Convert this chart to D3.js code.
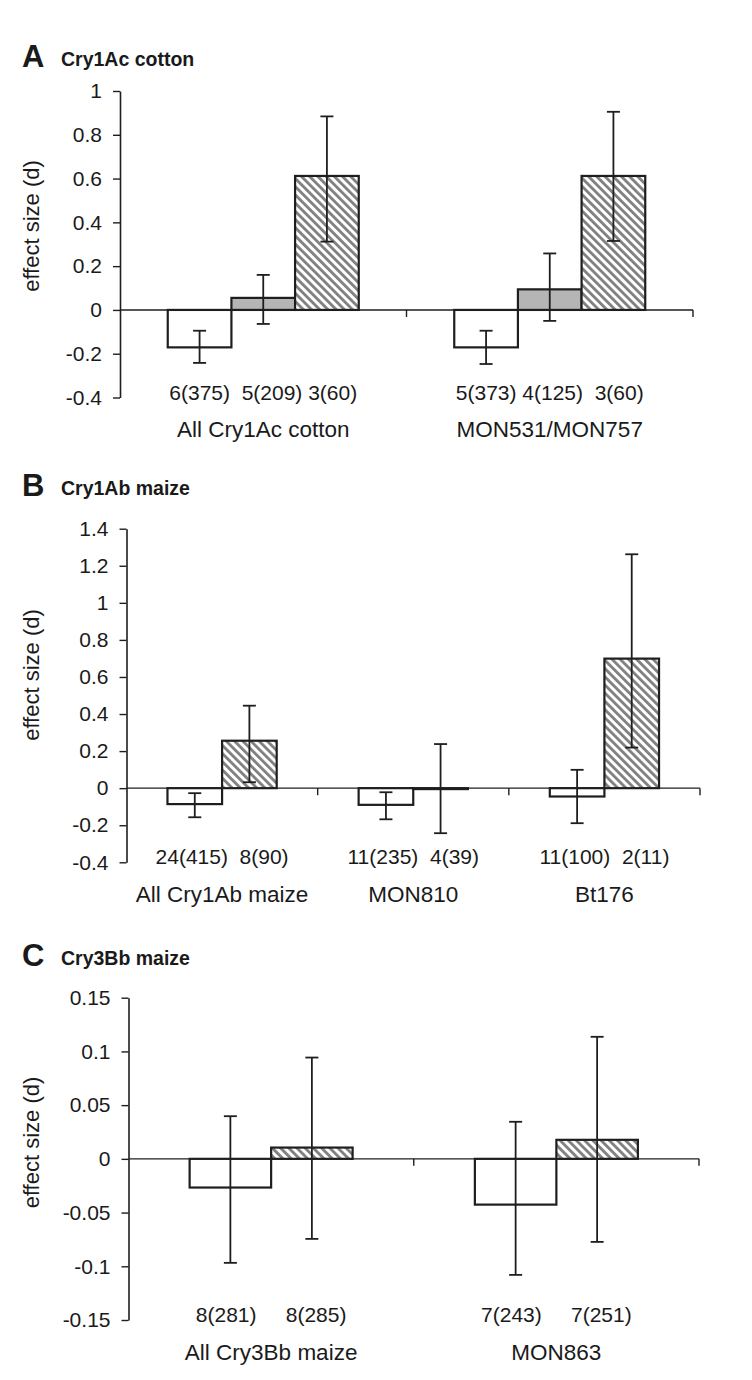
<!DOCTYPE html>
<html><head><meta charset="utf-8">
<script src="https://cdn.jsdelivr.net/npm/d3@7"></script>
<style>
body{margin:0;background:#fff}
svg text{font-family:"Liberation Sans",Arial,Helvetica,sans-serif;fill:#1a1a1a}
</style>
</head><body>
<svg id="chart" width="752" height="1380"></svg>
<script>
// ---------- DATA ----------
// Panel A: Cry1Ac cotton (three series)
const seriesA = ["open", "grey", "hatched"];
const groupsA = ["All Cry1Ac cotton", "MON531/MON757"];
const countsA = ["6(375)  5(209) 3(60)", "5(373) 4(125)  3(60)"];
const valuesA = [[-0.171, 0.055, 0.612], [-0.171, 0.094, 0.612]];
const lowA    = [[-0.242, -0.064, 0.312], [-0.247, -0.050, 0.315]];
const highA   = [[-0.095, 0.160, 0.884], [-0.095, 0.258, 0.905]];
const ticksA  = [1, 0.8, 0.6, 0.4, 0.2, 0, -0.2, -0.4];
const tickLabelsA = ["1", "0.8", "0.6", "0.4", "0.2", "0", "-0.2", "-0.4"];

// Panel B: Cry1Ab maize (two series)
const seriesB = ["open", "hatched"];
const groupsB = ["All Cry1Ab maize", "MON810", "Bt176"];
const countsB = ["24(415)  8(90)", "11(235)  4(39)", "11(100)  2(11)"];
const valuesB = [[-0.086, 0.256], [-0.090, -0.005], [-0.045, 0.699]];
const lowB    = [[-0.157, 0.032], [-0.168, -0.243], [-0.189, 0.219]];
const highB   = [[-0.027, 0.445], [-0.022, 0.238], [0.099, 1.262]];
const ticksB  = [1.4, 1.2, 1, 0.8, 0.6, 0.4, 0.2, 0, -0.2, -0.4];
const tickLabelsB = ["1.4", "1.2", "1", "0.8", "0.6", "0.4", "0.2", "0", "-0.2", "-0.4"];

// Panel C: Cry3Bb maize (two series)
const seriesC = ["open", "hatched"];
const groupsC = ["All Cry3Bb maize", "MON863"];
const countsC = ["8(281)     8(285)", "7(243)     7(251)"];
const valuesC = [[-0.0267, 0.0105], [-0.0426, 0.0177]];
const lowC    = [[-0.0968, -0.0745], [-0.108, -0.0773]];
const highC   = [[0.0397, 0.0943], [0.0345, 0.1136]];
const ticksC  = [0.15, 0.1, 0.05, 0, -0.05, -0.1, -0.15];
const tickLabelsC = ["0.15", "0.1", "0.05", "0", "-0.05", "-0.1", "-0.15"];

// ---------- DRAW ----------
const svg = d3.select("#chart");
svg.append("rect").attr("width", 752).attr("height", 1380).attr("fill", "#fff");

const defs = svg.append("defs");
const P = 5.8;
const pat = defs.append("pattern").attr("id", "hatch")
  .attr("patternUnits", "userSpaceOnUse").attr("width", P).attr("height", P)
  .attr("patternTransform", "rotate(-45)");
pat.append("rect").attr("width", P).attr("height", P).attr("fill", "#fff");
pat.append("rect").attr("x", 0).attr("width", 2.8).attr("height", P).attr("fill", "#7f7f7f");

const fills = {open: "#fff", grey: "#b5b5b5", hatched: "url(#hatch)"};
const ink = "#1e1e1e";

function drawPanel(cfg) {
  const g = svg.append("g");
  const [top, bottom] = cfg.yPix;
  const y = d3.scaleLinear().domain(d3.extent(cfg.ticks)).range([bottom, top]);
  const x0 = d3.scaleBand().domain(cfg.groups).range(cfg.xPix).padding(0);
  const series = cfg.series;
  const x1 = d3.scaleBand().domain(series).range([0, x0.bandwidth()])
    .paddingInner(0).paddingOuter(0.75);

  // titles
  g.append("text").attr("x", 22).attr("y", cfg.titleY).attr("font-size", 31)
    .attr("font-weight", "bold").text(cfg.letter);
  g.append("text").attr("x", 61).attr("y", cfg.titleY - 1).attr("font-size", 19.5)
    .attr("font-weight", "bold").text(cfg.title);

  // y axis
  const ax = g.append("g").attr("transform", `translate(${cfg.xPix[0]},0)`)
    .call(d3.axisLeft(y).tickValues(cfg.ticks)
      .tickFormat((d, i) => cfg.tickLabels[i]).tickSize(7).tickSizeOuter(0).tickPadding(11));
  ax.select(".domain").attr("stroke", ink).attr("stroke-width", 1.6);
  ax.selectAll(".tick line").attr("stroke", ink).attr("stroke-width", 1.4);
  ax.selectAll(".tick text").attr("font-size", 21)
    .attr("font-family", '"Liberation Sans",Arial,sans-serif').attr("fill", "#1a1a1a");

  // y label
  g.append("text").attr("transform", `translate(31,${cfg.ylabelY}) rotate(-90)`)
    .attr("text-anchor", "middle").attr("dominant-baseline", "central")
    .attr("font-size", 22).text("effect size (d)");

  // zero line + category boundary ticks
  g.append("line").attr("x1", cfg.xPix[0]).attr("x2", cfg.xPix[1])
    .attr("y1", y(0)).attr("y2", y(0)).attr("stroke", ink).attr("stroke-width", 1.4);
  g.selectAll(".ctick").data(cfg.groups).join("line")
    .attr("x1", d => x0(d) + x0.bandwidth()).attr("x2", d => x0(d) + x0.bandwidth())
    .attr("y1", y(0)).attr("y2", y(0) + 7).attr("stroke", ink).attr("stroke-width", 1.4);

  // bars
  cfg.groups.forEach((grp, gi) => {
    series.forEach((s, si) => {
      const v = cfg.values[gi][si];
      const bx = x0(grp) + x1(s);
      g.append("rect").attr("x", bx).attr("width", x1.bandwidth())
        .attr("y", y(Math.max(0, v))).attr("height", Math.max(0.01, Math.abs(y(v) - y(0))))
        .attr("fill", fills[s]).attr("stroke", ink).attr("stroke-width", 2.2);
    });
  });
  // error bars
  cfg.groups.forEach((grp, gi) => {
    series.forEach((s, si) => {
      const cx = x0(grp) + x1(s) + x1.bandwidth() / 2;
      const lo = y(cfg.low[gi][si]), hi = y(cfg.high[gi][si]);
      g.append("line").attr("x1", cx).attr("x2", cx).attr("y1", lo).attr("y2", hi)
        .attr("stroke", ink).attr("stroke-width", 1.8);
      [lo, hi].forEach(yy => g.append("line").attr("x1", cx - 6.5).attr("x2", cx + 6.5)
        .attr("y1", yy).attr("y2", yy).attr("stroke", ink).attr("stroke-width", 1.8));
    });
  });

  // category labels (two lines)
  cfg.groups.forEach((grp, gi) => {
    const cx = x0(grp) + x0.bandwidth() / 2;
    g.append("text").attr("x", cx).attr("y", bottom + 2).attr("text-anchor", "middle")
      .attr("xml:space", "preserve").style("white-space", "pre")
      .attr("font-size", 21).text(cfg.counts[gi]);
    g.append("text").attr("x", cx).attr("y", bottom + 39.5).attr("text-anchor", "middle")
      .attr("font-size", 22.5).text(grp);
  });
}

drawPanel({letter: "A", title: "Cry1Ac cotton", titleY: 67,
  xPix: [120, 693], yPix: [91, 397.5], ylabelY: 226, series: seriesA,
  groups: groupsA, counts: countsA, values: valuesA, low: lowA, high: highA,
  ticks: ticksA, tickLabels: tickLabelsA});

drawPanel({letter: "B", title: "Cry1Ab maize", titleY: 496,
  xPix: [126.5, 700], yPix: [528.7, 862.3], ylabelY: 675, series: seriesB,
  groups: groupsB, counts: countsB, values: valuesB, low: lowB, high: highB,
  ticks: ticksB, tickLabels: tickLabelsB});

drawPanel({letter: "C", title: "Cry3Bb maize", titleY: 966,
  xPix: [128.5, 699], yPix: [997.7, 1320], ylabelY: 1142.5, series: seriesC,
  groups: groupsC, counts: countsC, values: valuesC, low: lowC, high: highC,
  ticks: ticksC, tickLabels: tickLabelsC});
</script>
</body></html>
